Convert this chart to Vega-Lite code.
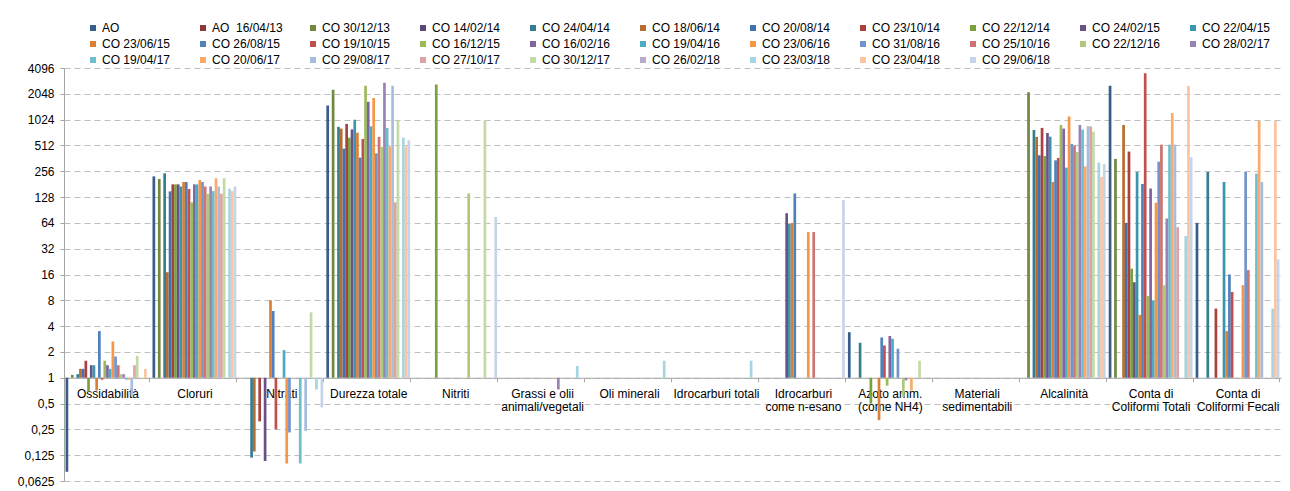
{
  "$schema": "https://vega.github.io/schema/vega-lite/v6.json",
  "autosize": {"type": "none"},
  "padding": {"left": 64, "top": 68, "right": 9, "bottom": 10},
  "width": 1217,
  "height": 413,
  "background": "#ffffff",
  "config": {
    "font": "Liberation Sans",
    "view": {"stroke": null},
    "axis": {"labelFont": "Liberation Sans", "labelColor": "#000000", "labelFontSize": 12}
  },
  "data": {
    "values": [
      {"p": "Ossidabilità", "s": "AO", "v": 0.08},
      {"p": "Ossidabilità", "s": "CO 30/12/13", "v": 1.08},
      {"p": "Ossidabilità", "s": "CO 24/04/14", "v": 1.1},
      {"p": "Ossidabilità", "s": "CO 18/06/14", "v": 1.27},
      {"p": "Ossidabilità", "s": "CO 20/08/14", "v": 1.27},
      {"p": "Ossidabilità", "s": "CO 23/10/14", "v": 1.58},
      {"p": "Ossidabilità", "s": "CO 22/12/14", "v": 0.69},
      {"p": "Ossidabilità", "s": "CO 24/02/15", "v": 1.4},
      {"p": "Ossidabilità", "s": "CO 22/04/15", "v": 1.4},
      {"p": "Ossidabilità", "s": "CO 23/06/15", "v": 0.71},
      {"p": "Ossidabilità", "s": "CO 26/08/15", "v": 3.5},
      {"p": "Ossidabilità", "s": "CO 19/10/15", "v": 0.95},
      {"p": "Ossidabilità", "s": "CO 16/12/15", "v": 1.58},
      {"p": "Ossidabilità", "s": "CO 16/02/16", "v": 1.4},
      {"p": "Ossidabilità", "s": "CO 19/04/16", "v": 1.27},
      {"p": "Ossidabilità", "s": "CO 23/06/16", "v": 2.65},
      {"p": "Ossidabilità", "s": "CO 31/08/16", "v": 1.77},
      {"p": "Ossidabilità", "s": "CO 25/10/16", "v": 1.4},
      {"p": "Ossidabilità", "s": "CO 22/12/16", "v": 1.1},
      {"p": "Ossidabilità", "s": "CO 28/02/17", "v": 1.1},
      {"p": "Ossidabilità", "s": "CO 19/04/17", "v": 0.95},
      {"p": "Ossidabilità", "s": "CO 20/06/17", "v": 0.95},
      {"p": "Ossidabilità", "s": "CO 29/08/17", "v": 0.62},
      {"p": "Ossidabilità", "s": "CO 27/10/17", "v": 1.4},
      {"p": "Ossidabilità", "s": "CO 30/12/17", "v": 1.8},
      {"p": "Ossidabilità", "s": "CO 23/04/18", "v": 1.27},

      {"p": "Cloruri", "s": "AO", "v": 223},
      {"p": "Cloruri", "s": "CO 30/12/13", "v": 208},
      {"p": "Cloruri", "s": "CO 24/04/14", "v": 242},
      {"p": "Cloruri", "s": "CO 18/06/14", "v": 17},
      {"p": "Cloruri", "s": "CO 20/08/14", "v": 149},
      {"p": "Cloruri", "s": "CO 23/10/14", "v": 180},
      {"p": "Cloruri", "s": "CO 22/12/14", "v": 180},
      {"p": "Cloruri", "s": "CO 24/02/15", "v": 180},
      {"p": "Cloruri", "s": "CO 22/04/15", "v": 170},
      {"p": "Cloruri", "s": "CO 23/06/15", "v": 192},
      {"p": "Cloruri", "s": "CO 26/08/15", "v": 192},
      {"p": "Cloruri", "s": "CO 19/10/15", "v": 159},
      {"p": "Cloruri", "s": "CO 16/12/15", "v": 111},
      {"p": "Cloruri", "s": "CO 16/02/16", "v": 180},
      {"p": "Cloruri", "s": "CO 19/04/16", "v": 180},
      {"p": "Cloruri", "s": "CO 23/06/16", "v": 202},
      {"p": "Cloruri", "s": "CO 31/08/16", "v": 192},
      {"p": "Cloruri", "s": "CO 25/10/16", "v": 170},
      {"p": "Cloruri", "s": "CO 22/12/16", "v": 140},
      {"p": "Cloruri", "s": "CO 28/02/17", "v": 170},
      {"p": "Cloruri", "s": "CO 19/04/17", "v": 150},
      {"p": "Cloruri", "s": "CO 20/06/17", "v": 212},
      {"p": "Cloruri", "s": "CO 29/08/17", "v": 170},
      {"p": "Cloruri", "s": "CO 27/10/17", "v": 140},
      {"p": "Cloruri", "s": "CO 30/12/17", "v": 212},
      {"p": "Cloruri", "s": "CO 23/03/18", "v": 160},
      {"p": "Cloruri", "s": "CO 23/04/18", "v": 150},
      {"p": "Cloruri", "s": "CO 29/06/18", "v": 170},

      {"p": "Nitrati", "s": "CO 24/04/14", "v": 0.117},
      {"p": "Nitrati", "s": "CO 18/06/14", "v": 0.138},
      {"p": "Nitrati", "s": "CO 23/10/14", "v": 0.31},
      {"p": "Nitrati", "s": "CO 24/02/15", "v": 0.107},
      {"p": "Nitrati", "s": "CO 23/06/15", "v": 8},
      {"p": "Nitrati", "s": "CO 26/08/15", "v": 6},
      {"p": "Nitrati", "s": "CO 19/10/15", "v": 0.25},
      {"p": "Nitrati", "s": "CO 19/04/16", "v": 2.1},
      {"p": "Nitrati", "s": "CO 23/06/16", "v": 0.1},
      {"p": "Nitrati", "s": "CO 31/08/16", "v": 0.23},
      {"p": "Nitrati", "s": "CO 19/04/17", "v": 0.1},
      {"p": "Nitrati", "s": "CO 29/08/17", "v": 0.24},
      {"p": "Nitrati", "s": "CO 30/12/17", "v": 5.8},
      {"p": "Nitrati", "s": "CO 23/03/18", "v": 0.73},
      {"p": "Nitrati", "s": "CO 29/06/18", "v": 0.45},

      {"p": "Durezza totale", "s": "AO", "v": 1500},
      {"p": "Durezza totale", "s": "CO 30/12/13", "v": 2290},
      {"p": "Durezza totale", "s": "CO 24/04/14", "v": 843},
      {"p": "Durezza totale", "s": "CO 18/06/14", "v": 804},
      {"p": "Durezza totale", "s": "CO 20/08/14", "v": 470},
      {"p": "Durezza totale", "s": "CO 23/10/14", "v": 912},
      {"p": "Durezza totale", "s": "CO 22/12/14", "v": 630},
      {"p": "Durezza totale", "s": "CO 24/02/15", "v": 788},
      {"p": "Durezza totale", "s": "CO 22/04/15", "v": 1024},
      {"p": "Durezza totale", "s": "CO 23/06/15", "v": 720},
      {"p": "Durezza totale", "s": "CO 26/08/15", "v": 369},
      {"p": "Durezza totale", "s": "CO 19/10/15", "v": 610},
      {"p": "Durezza totale", "s": "CO 16/12/15", "v": 2550},
      {"p": "Durezza totale", "s": "CO 16/02/16", "v": 1650},
      {"p": "Durezza totale", "s": "CO 19/04/16", "v": 855},
      {"p": "Durezza totale", "s": "CO 23/06/16", "v": 1830},
      {"p": "Durezza totale", "s": "CO 31/08/16", "v": 414},
      {"p": "Durezza totale", "s": "CO 25/10/16", "v": 645},
      {"p": "Durezza totale", "s": "CO 22/12/16", "v": 492},
      {"p": "Durezza totale", "s": "CO 28/02/17", "v": 2760},
      {"p": "Durezza totale", "s": "CO 19/04/17", "v": 820},
      {"p": "Durezza totale", "s": "CO 20/06/17", "v": 500},
      {"p": "Durezza totale", "s": "CO 29/08/17", "v": 2550},
      {"p": "Durezza totale", "s": "CO 27/10/17", "v": 111},
      {"p": "Durezza totale", "s": "CO 30/12/17", "v": 1000},
      {"p": "Durezza totale", "s": "CO 23/03/18", "v": 630},
      {"p": "Durezza totale", "s": "CO 23/04/18", "v": 500},
      {"p": "Durezza totale", "s": "CO 29/06/18", "v": 588},

      {"p": "Nitriti", "s": "CO 22/12/14", "v": 2630},
      {"p": "Nitriti", "s": "CO 22/12/16", "v": 141},
      {"p": "Nitriti", "s": "CO 30/12/17", "v": 1010},
      {"p": "Nitriti", "s": "CO 29/06/18", "v": 75},

      {"p": "Grassi e olii animali/vegetali", "s": "CO 28/02/17", "v": 0.73},
      {"p": "Grassi e olii animali/vegetali", "s": "CO 23/03/18", "v": 1.37},

      {"p": "Oli minerali", "s": "CO 23/03/18", "v": 1.58},

      {"p": "Idrocarburi totali", "s": "CO 23/03/18", "v": 1.58},

      {"p": "Idrocarburi come n-esano", "s": "CO 24/02/15", "v": 83},
      {"p": "Idrocarburi come n-esano", "s": "CO 22/04/15", "v": 62},
      {"p": "Idrocarburi come n-esano", "s": "CO 23/06/15", "v": 64},
      {"p": "Idrocarburi come n-esano", "s": "CO 26/08/15", "v": 141},
      {"p": "Idrocarburi come n-esano", "s": "CO 23/06/16", "v": 50},
      {"p": "Idrocarburi come n-esano", "s": "CO 25/10/16", "v": 50},
      {"p": "Idrocarburi come n-esano", "s": "CO 29/06/18", "v": 118},

      {"p": "Azoto amm. (come NH4)", "s": "AO", "v": 3.4},
      {"p": "Azoto amm. (come NH4)", "s": "CO 24/04/14", "v": 2.56},
      {"p": "Azoto amm. (come NH4)", "s": "CO 22/12/14", "v": 0.5},
      {"p": "Azoto amm. (come NH4)", "s": "CO 23/06/15", "v": 0.32},
      {"p": "Azoto amm. (come NH4)", "s": "CO 26/08/15", "v": 2.95},
      {"p": "Azoto amm. (come NH4)", "s": "CO 19/10/15", "v": 2.38},
      {"p": "Azoto amm. (come NH4)", "s": "CO 16/12/15", "v": 0.81},
      {"p": "Azoto amm. (come NH4)", "s": "CO 16/02/16", "v": 3.07},
      {"p": "Azoto amm. (come NH4)", "s": "CO 19/04/16", "v": 2.85},
      {"p": "Azoto amm. (come NH4)", "s": "CO 31/08/16", "v": 2.18},
      {"p": "Azoto amm. (come NH4)", "s": "CO 22/12/16", "v": 0.6},
      {"p": "Azoto amm. (come NH4)", "s": "CO 28/02/17", "v": 0.93},
      {"p": "Azoto amm. (come NH4)", "s": "CO 20/06/17", "v": 0.71},
      {"p": "Azoto amm. (come NH4)", "s": "CO 30/12/17", "v": 1.58},

      {"p": "Alcalinità", "s": "CO 30/12/13", "v": 2130},
      {"p": "Alcalinità", "s": "CO 24/04/14", "v": 776},
      {"p": "Alcalinità", "s": "CO 18/06/14", "v": 644},
      {"p": "Alcalinità", "s": "CO 20/08/14", "v": 393},
      {"p": "Alcalinità", "s": "CO 23/10/14", "v": 820},
      {"p": "Alcalinità", "s": "CO 22/12/14", "v": 385},
      {"p": "Alcalinità", "s": "CO 24/02/15", "v": 715},
      {"p": "Alcalinità", "s": "CO 22/04/15", "v": 648},
      {"p": "Alcalinità", "s": "CO 23/06/15", "v": 192},
      {"p": "Alcalinità", "s": "CO 26/08/15", "v": 343},
      {"p": "Alcalinità", "s": "CO 19/10/15", "v": 366},
      {"p": "Alcalinità", "s": "CO 16/12/15", "v": 887},
      {"p": "Alcalinità", "s": "CO 16/02/16", "v": 804},
      {"p": "Alcalinità", "s": "CO 19/04/16", "v": 282},
      {"p": "Alcalinità", "s": "CO 23/06/16", "v": 1110},
      {"p": "Alcalinità", "s": "CO 31/08/16", "v": 534},
      {"p": "Alcalinità", "s": "CO 25/10/16", "v": 513},
      {"p": "Alcalinità", "s": "CO 22/12/16", "v": 430},
      {"p": "Alcalinità", "s": "CO 28/02/17", "v": 887},
      {"p": "Alcalinità", "s": "CO 19/04/17", "v": 783},
      {"p": "Alcalinità", "s": "CO 20/06/17", "v": 292},
      {"p": "Alcalinità", "s": "CO 29/08/17", "v": 855},
      {"p": "Alcalinità", "s": "CO 27/10/17", "v": 855},
      {"p": "Alcalinità", "s": "CO 30/12/17", "v": 741},
      {"p": "Alcalinità", "s": "CO 23/03/18", "v": 322},
      {"p": "Alcalinità", "s": "CO 23/04/18", "v": 220},
      {"p": "Alcalinità", "s": "CO 29/06/18", "v": 311},

      {"p": "Conta di Coliformi Totali", "s": "AO", "v": 2550},
      {"p": "Conta di Coliformi Totali", "s": "CO 30/12/13", "v": 357},
      {"p": "Conta di Coliformi Totali", "s": "CO 18/06/14", "v": 887},
      {"p": "Conta di Coliformi Totali", "s": "CO 20/08/14", "v": 64},
      {"p": "Conta di Coliformi Totali", "s": "CO 23/10/14", "v": 434},
      {"p": "Conta di Coliformi Totali", "s": "CO 22/12/14", "v": 18.7},
      {"p": "Conta di Coliformi Totali", "s": "CO 24/02/15", "v": 13},
      {"p": "Conta di Coliformi Totali", "s": "CO 22/04/15", "v": 251},
      {"p": "Conta di Coliformi Totali", "s": "CO 23/06/15", "v": 5.4},
      {"p": "Conta di Coliformi Totali", "s": "CO 26/08/15", "v": 182},
      {"p": "Conta di Coliformi Totali", "s": "CO 19/10/15", "v": 3550},
      {"p": "Conta di Coliformi Totali", "s": "CO 16/12/15", "v": 9},
      {"p": "Conta di Coliformi Totali", "s": "CO 16/02/16", "v": 161},
      {"p": "Conta di Coliformi Totali", "s": "CO 19/04/16", "v": 8},
      {"p": "Conta di Coliformi Totali", "s": "CO 23/06/16", "v": 110},
      {"p": "Conta di Coliformi Totali", "s": "CO 31/08/16", "v": 331},
      {"p": "Conta di Coliformi Totali", "s": "CO 25/10/16", "v": 523},
      {"p": "Conta di Coliformi Totali", "s": "CO 22/12/16", "v": 12},
      {"p": "Conta di Coliformi Totali", "s": "CO 28/02/17", "v": 72},
      {"p": "Conta di Coliformi Totali", "s": "CO 19/04/17", "v": 523},
      {"p": "Conta di Coliformi Totali", "s": "CO 20/06/17", "v": 1226},
      {"p": "Conta di Coliformi Totali", "s": "CO 29/08/17", "v": 523},
      {"p": "Conta di Coliformi Totali", "s": "CO 27/10/17", "v": 57},
      {"p": "Conta di Coliformi Totali", "s": "CO 23/03/18", "v": 45},
      {"p": "Conta di Coliformi Totali", "s": "CO 23/04/18", "v": 2550},
      {"p": "Conta di Coliformi Totali", "s": "CO 29/06/18", "v": 372},

      {"p": "Conta di Coliformi Fecali", "s": "AO", "v": 64},
      {"p": "Conta di Coliformi Fecali", "s": "CO 24/04/14", "v": 251},
      {"p": "Conta di Coliformi Fecali", "s": "CO 23/10/14", "v": 6.4},
      {"p": "Conta di Coliformi Fecali", "s": "CO 22/04/15", "v": 192},
      {"p": "Conta di Coliformi Fecali", "s": "CO 23/06/15", "v": 3.5},
      {"p": "Conta di Coliformi Fecali", "s": "CO 26/08/15", "v": 16},
      {"p": "Conta di Coliformi Fecali", "s": "CO 19/10/15", "v": 10},
      {"p": "Conta di Coliformi Fecali", "s": "CO 23/06/16", "v": 12},
      {"p": "Conta di Coliformi Fecali", "s": "CO 31/08/16", "v": 251},
      {"p": "Conta di Coliformi Fecali", "s": "CO 25/10/16", "v": 18},
      {"p": "Conta di Coliformi Fecali", "s": "CO 19/04/17", "v": 240},
      {"p": "Conta di Coliformi Fecali", "s": "CO 20/06/17", "v": 990},
      {"p": "Conta di Coliformi Fecali", "s": "CO 29/08/17", "v": 192},
      {"p": "Conta di Coliformi Fecali", "s": "CO 23/03/18", "v": 6.4},
      {"p": "Conta di Coliformi Fecali", "s": "CO 23/04/18", "v": 990},
      {"p": "Conta di Coliformi Fecali", "s": "CO 29/06/18", "v": 24}
    ]
  },
  "mark": {"type": "bar"},
  "encoding": {
    "x": {
      "field": "p",
      "type": "nominal",
      "scale": {
        "domain": ["Ossidabilità", "Cloruri", "Nitrati", "Durezza totale", "Nitriti", "Grassi e olii animali/vegetali", "Oli minerali", "Idrocarburi totali", "Idrocarburi come n-esano", "Azoto amm. (come NH4)", "Materiali sedimentabili", "Alcalinità", "Conta di Coliformi Totali", "Conta di Coliformi Fecali"],
        "paddingInner": 0.036,
        "paddingOuter": 0.018
      },
      "axis": {
        "title": null,
        "orient": "bottom",
        "offset": -103.25,
        "grid": false,
        "domainColor": "#A6A6A6",
        "tickColor": "#A6A6A6",
        "tickBand": "extent",
        "tickSize": 4,
        "labelAngle": 0,
        "labelPadding": 7,
        "labelFontSize": 12,
        "labelLineHeight": 13,
        "labelLimit": 200,
        "labelOverlap": false,
        "labelExpr": "datum.label == 'Grassi e olii animali/vegetali' ? ['Grassi e olii', 'animali/vegetali'] : datum.label == 'Idrocarburi come n-esano' ? ['Idrocarburi', 'come n-esano'] : datum.label == 'Azoto amm. (come NH4)' ? ['Azoto amm.', '(come NH4)'] : datum.label == 'Materiali sedimentabili' ? ['Materiali', 'sedimentabili'] : datum.label == 'Conta di Coliformi Totali' ? ['Conta di', 'Coliformi Totali'] : datum.label == 'Conta di Coliformi Fecali' ? ['Conta di', 'Coliformi Fecali'] : datum.label"
      }
    },
    "xOffset": {
      "field": "s",
      "type": "nominal",
      "scale": {
        "domain": ["AO", "AO \u00a016/04/13", "CO 30/12/13", "CO 14/02/14", "CO 24/04/14", "CO 18/06/14", "CO 20/08/14", "CO 23/10/14", "CO 22/12/14", "CO 24/02/15", "CO 22/04/15", "CO 23/06/15", "CO 26/08/15", "CO 19/10/15", "CO 16/12/15", "CO 16/02/16", "CO 19/04/16", "CO 23/06/16", "CO 31/08/16", "CO 25/10/16", "CO 22/12/16", "CO 28/02/17", "CO 19/04/17", "CO 20/06/17", "CO 29/08/17", "CO 27/10/17", "CO 30/12/17", "CO 26/02/18", "CO 23/03/18", "CO 23/04/18", "CO 29/06/18"],
        "paddingInner": 0,
        "paddingOuter": 0
      }
    },
    "y": {
      "field": "v",
      "type": "quantitative",
      "scale": {"type": "log", "base": 2, "domain": [0.0625, 4096], "nice": false},
      "axis": {
        "title": null,
        "values": [0.0625, 0.125, 0.25, 0.5, 1, 2, 4, 8, 16, 32, 64, 128, 256, 512, 1024, 2048, 4096],
        "labelExpr": "replace(toString(datum.value), '.', ',')",
        "grid": true,
        "gridDash": [6, 4],
        "gridColor": "#BFBFBF",
        "gridWidth": 1,
        "domainColor": "#A6A6A6",
        "tickColor": "#A6A6A6",
        "tickSize": 4,
        "labelPadding": 6,
        "labelFontSize": 12
      }
    },
    "y2": {"datum": 1},
    "color": {
      "field": "s",
      "type": "nominal",
      "scale": {
        "domain": ["AO", "AO \u00a016/04/13", "CO 30/12/13", "CO 14/02/14", "CO 24/04/14", "CO 18/06/14", "CO 20/08/14", "CO 23/10/14", "CO 22/12/14", "CO 24/02/15", "CO 22/04/15", "CO 23/06/15", "CO 26/08/15", "CO 19/10/15", "CO 16/12/15", "CO 16/02/16", "CO 19/04/16", "CO 23/06/16", "CO 31/08/16", "CO 25/10/16", "CO 22/12/16", "CO 28/02/17", "CO 19/04/17", "CO 20/06/17", "CO 29/08/17", "CO 27/10/17", "CO 30/12/17", "CO 26/02/18", "CO 23/03/18", "CO 23/04/18", "CO 29/06/18"],
        "range": ["#385D8A", "#8C3836", "#71893F", "#5C4776", "#357D91", "#B66D31", "#4272AE", "#A9413E", "#7BA13F", "#6A5189", "#3B96AD", "#DA8137", "#4F81BD", "#C0504D", "#9BBB59", "#8064A2", "#4BACC6", "#F79646", "#7394CB", "#CD7371", "#AFC97A", "#9983B5", "#6FBDD1", "#F9AB6B", "#A7BDE0", "#DCA3A2", "#C4DAA6", "#B8AACC", "#A5D4E2", "#FBC4A2", "#C6D3E9"]
      },
      "legend": {
        "title": null,
        "orient": "none",
        "legendX": 23,
        "legendY": -46,
        "direction": "horizontal",
        "columns": 11,
        "gridAlign": "all",
        "columnPadding": 24,
        "rowPadding": 4,
        "padding": 0,
        "symbolLimit": 0,
        "symbolType": "square",
        "symbolSize": 36,
        "symbolStrokeWidth": 0,
        "labelFontSize": 12,
        "labelOffset": 3,
        "labelLimit": 200,
        "labelColor": "#000000"
      }
    }
  }
}
